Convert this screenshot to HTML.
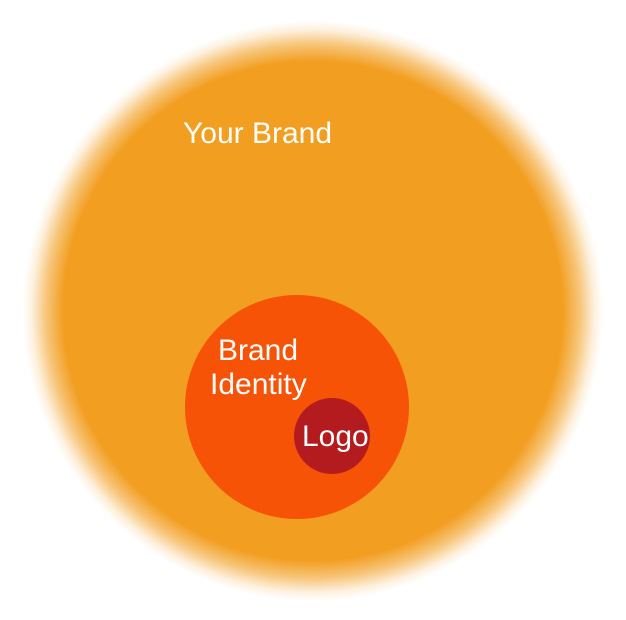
<!DOCTYPE html>
<html><head><style>
html,body{margin:0;padding:0;background:#fff;width:626px;height:620px;overflow:hidden}
.big{position:absolute;left:23px;top:21px;width:580px;height:580px;border-radius:50%;
background:radial-gradient(circle closest-side,#F29E20 0%,#F29E20 86%,rgba(242,158,32,0.6) 92%,rgba(242,158,32,0.15) 97%,rgba(242,158,32,0) 100%)}
.mid{position:absolute;left:185px;top:295px;width:224px;height:224px;border-radius:50%;background:#F75306}
.logo{position:absolute;left:294px;top:398px;width:76px;height:76px;border-radius:50%;background:#B31B1E}
.t{position:absolute;color:#fff;font-family:"Liberation Sans Narrow","Liberation Sans",sans-serif;font-size:30px;line-height:30px;white-space:nowrap}
</style></head><body>
<div class="big"></div>
<div class="mid"></div>
<div class="logo"></div>
<div class="t" style="left:183px;top:119px">Your Brand</div>
<div class="t" style="left:218px;top:336px">Brand</div>
<div class="t" style="left:210px;top:370px">Identity</div>
<div class="t" style="left:302px;top:422px">Logo</div>
</body></html>
